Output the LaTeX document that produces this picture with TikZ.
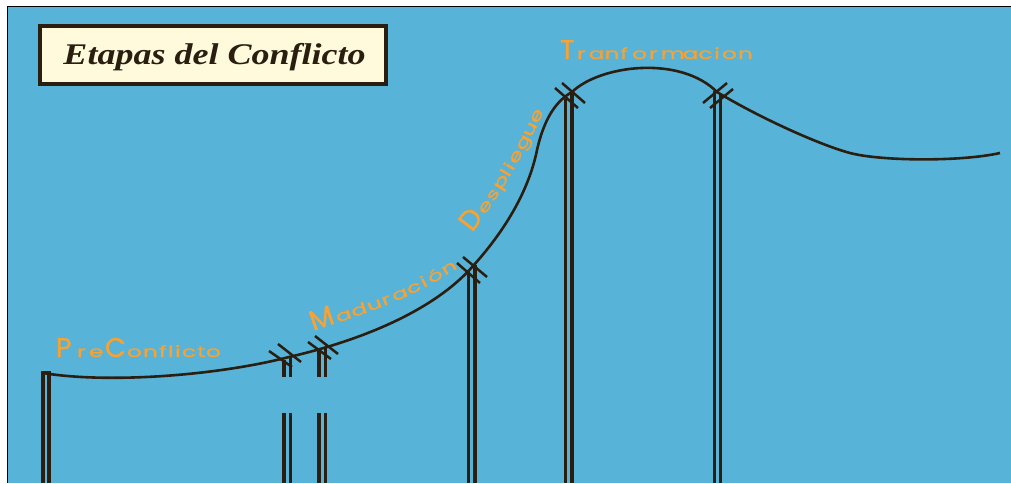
\documentclass[tikz,border=0pt]{standalone}
\usepackage{fontspec}
\newfontfamily\labfont{Poppins}[FakeBold=1]
\newfontfamily\titlefont{Liberation Serif}
\usetikzlibrary{decorations.markings}
\definecolor{sky}{RGB}{88,179,217}
\definecolor{ink}{RGB}{42,30,16}
\definecolor{lab}{RGB}{246,162,52}
\definecolor{cream}{RGB}{255,250,220}
\tikzset{
  cable/.style={draw=ink, line width=2.6pt},
  polewire/.style={draw=ink, line width=3.3pt},
  hatch/.style={draw=ink, line width=2.5pt},
  capl/.style={text=lab, inner sep=0pt, outer sep=0pt, anchor=base west, font=\labfont\fontsize{27}{27}\selectfont},
  capm/.style={text=lab, inner sep=0pt, outer sep=0pt, anchor=base west, font=\labfont\fontsize{28}{28}\selectfont},
  lowl/.style={text=lab, inner sep=0pt, outer sep=0pt, anchor=base west, font=\labfont\fontsize{15.5}{15.5}\selectfont},
}
\begin{document}
\begin{tikzpicture}[x=1pt,y=1pt]
\useasboundingbox (0,0) rectangle (1011,483);
\fill[white] (0,0) rectangle (1011,483);
\fill[sky] (8,0) rectangle (1011,475.5);
\draw[black, line width=1.8pt] (7.4,0) -- (7.4,476.4) -- (1011,476.4);

% title
\node[draw=ink, line width=3.5pt, fill=cream, minimum width=346pt, minimum height=58pt, inner sep=0pt] (titlebox) at (213,428) {};
\node[anchor=base, inner sep=0pt, text=ink, font=\titlefont\bfseries\itshape\fontsize{30}{30}\selectfont] (title) at (214.5,418) {\scalebox{1.2}[1]{Etapas del Conflicto}};

% main curve
\draw[cable] (43,110) .. controls (110,99) and (220,108) .. (289,126)
  .. controls (350,140) and (430,168) .. (473,217)
  .. controls (510,258) and (530,298) .. (537,333)
  .. controls (545,368) and (558,383) .. (572,391)
  .. controls (600,418) and (680,428) .. (717,391)
  .. controls (760,365) and (820,338) .. (850,330)
  .. controls (880,322) and (960,321) .. (1000,330);

% poles
\draw[polewire] (43,0) -- (43,110.5) -- (49,110.5) -- (49,0);
\draw[polewire] (284,123) -- (284,106) (290.5,126) -- (290.5,106);
\draw[polewire] (284,70) -- (284,0) (290.5,70) -- (290.5,0);
\draw[polewire] (319,134) -- (319,106) (325.5,136) -- (325.5,106);
\draw[polewire] (319,70) -- (319,0) (325.5,70) -- (325.5,0);
\draw[polewire] (468.5,213) -- (468.5,0) (475,218) -- (475,0);
\draw[polewire] (565.5,384) -- (565.5,0) (572,390) -- (572,0);
\draw[polewire] (714.5,392) -- (714.5,0) (720.5,388) -- (720.5,0);

% cross ticks
\draw[hatch] (269,132) -- (292,116) (278,139) -- (301,121);
\draw[hatch] (308,141) -- (331,124) (315,147) -- (338,129);
\draw[hatch] (457,220) -- (480,200) (463,226) -- (487,206);
\draw[hatch] (555,395) -- (578,375) (562,400) -- (585,380);
\draw[hatch] (703,380) -- (727,400) (710,375) -- (733,394);

% Pre Conflicto
\foreach \x/\c/\s/\k [count=\i] in {56/P/capl/1.0, 77/r/lowl/1.5, 89/e/lowl/1.5, 105/C/capl/1.0, 127/o/lowl/1.5, 143/n/lowl/1.5, 159/f/lowl/1.5, 168/l/lowl/1.5, 175/i/lowl/1.5, 182/c/lowl/1.5, 197/t/lowl/1.5, 206/o/lowl/1.5}
  \node[\s] (pre\i) at (\x,126) {\scalebox{\k}[1]{\c}};

% Tranformacion
\foreach \x/\c/\s/\k [count=\i] in {560/T/capl/1.0, 577/r/lowl/1.5, 588.8/a/lowl/1.5, 604.6/n/lowl/1.5, 620.4/f/lowl/1.5, 632.2/o/lowl/1.5, 649/r/lowl/1.5, 660.8/m/lowl/1.5, 682.6/a/lowl/1.5, 698.4/c/lowl/1.5, 714.2/i/lowl/1.5, 722/o/lowl/1.5, 738/n/lowl/1.5}
  \node[\s] (tra\i) at (\x,424) {\scalebox{\k}[1]{\c}};

% Maduracion
\foreach \p/\c/\s/\k [count=\i] in {0.001/M/capm/1.0, 0.17/a/lowl/1.5, 0.276/d/lowl/1.5, 0.385/u/lowl/1.5, 0.487/r/lowl/1.5, 0.562/a/lowl/1.5, 0.669/c/lowl/1.5, 0.771/i/lowl/1.5, 0.826/ó/lowl/1.5, 0.932/n/lowl/1.5}
  \path[decorate, decoration={markings, mark=at position \p with {\node[\s, transform shape] (mad\i) {\scalebox{\k}[1]{\c}};}}]
    (313,152) .. controls (360,168) and (410,183) .. (454,213);

% Despliegue
\foreach \p/\c/\s/\k [count=\i] in {0.001/D/capm/1.0, 0.16/e/lowl/1.5, 0.272/s/lowl/1.5, 0.37/p/lowl/1.5, 0.482/l/lowl/1.5, 0.536/i/lowl/1.5, 0.59/e/lowl/1.5, 0.702/g/lowl/1.5, 0.814/u/lowl/1.5, 0.924/e/lowl/1.5}
  \path[decorate, decoration={markings, mark=at position \p with {\node[\s, transform shape] (des\i) {\scalebox{\k}[1]{\c}};}}]
    (472,250) .. controls (492,276) and (521,322) .. (542,368);
\end{tikzpicture}
\end{document}
